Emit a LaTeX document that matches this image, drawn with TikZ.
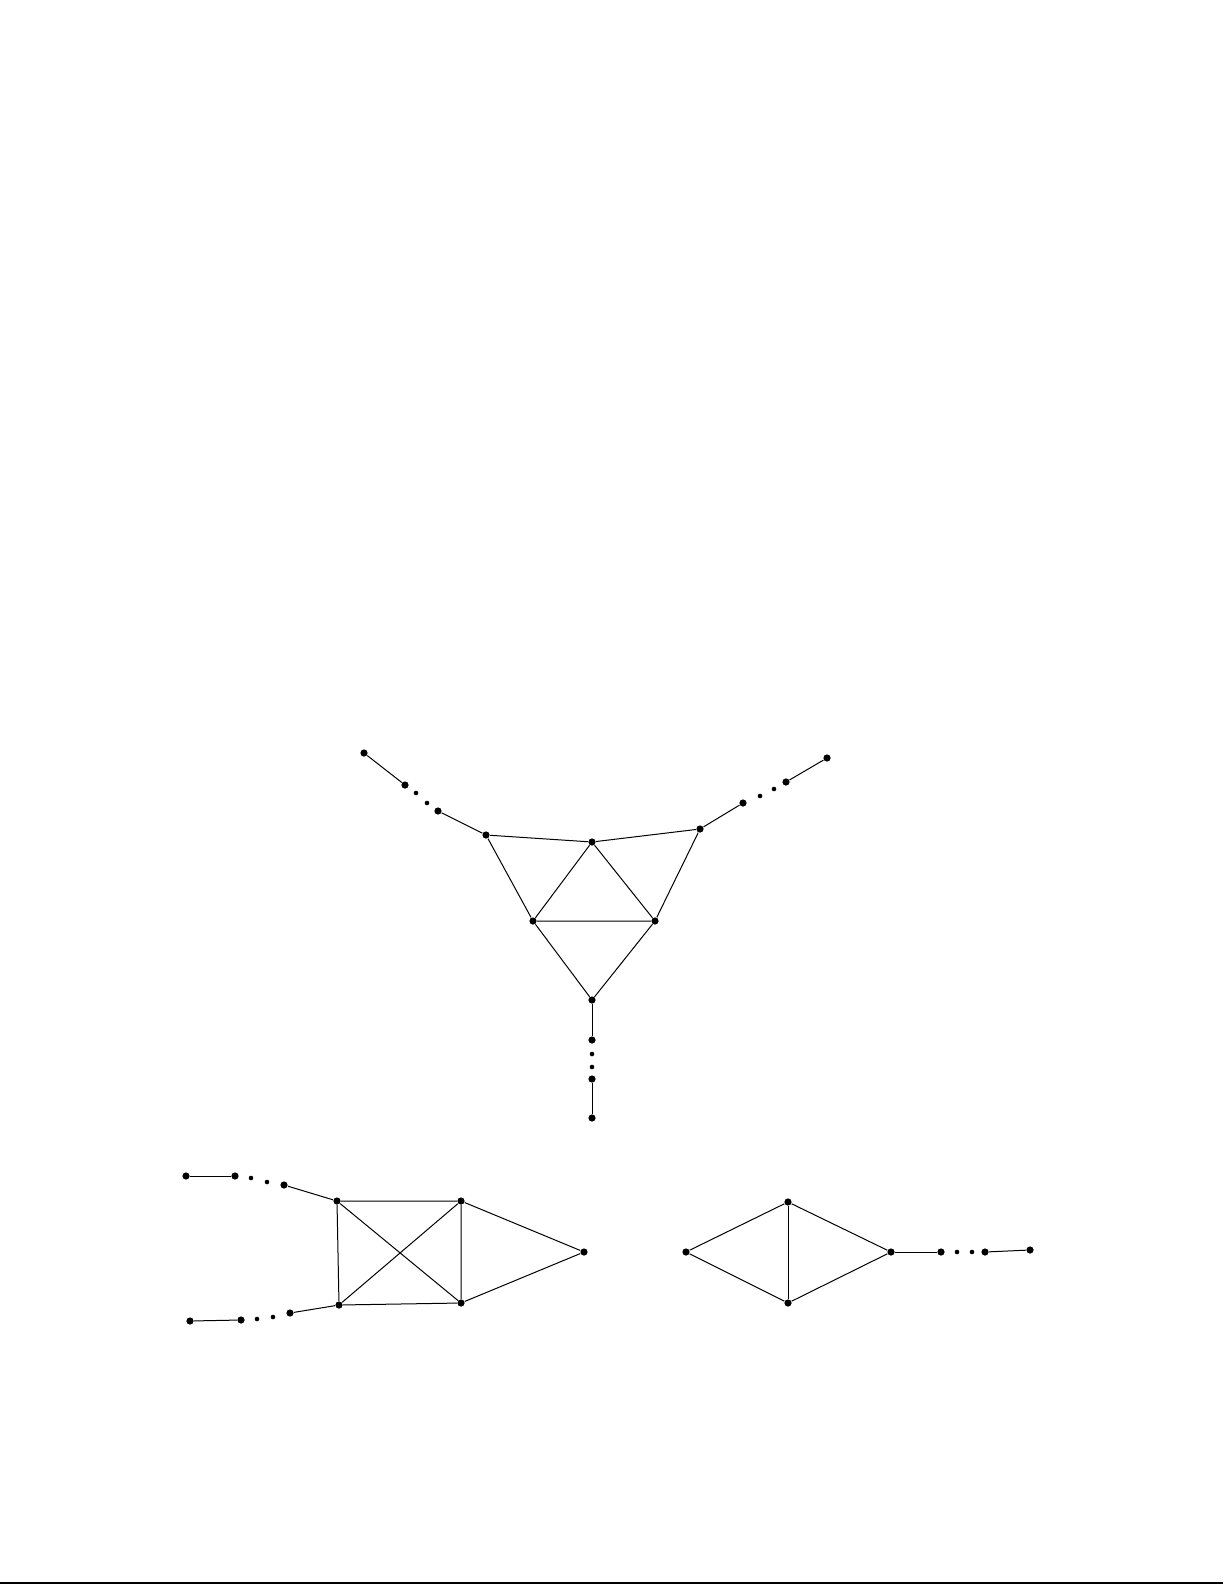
\documentclass[tikz,border=0pt]{standalone}
\usetikzlibrary{calc}

\begin{document}
\begin{tikzpicture}[x=0.5pt,y=-0.5pt,line width=0.5pt,
    vertex/.style={circle,fill,inner sep=0pt,minimum size=3.6pt},
    gap/.style={circle,fill,inner sep=0pt,minimum size=2.3pt}]
  \useasboundingbox (0,0) rectangle (1225,1585);

  % top graph
  \node[vertex] (a1) at (364,753) {};
  \node[vertex] (a2) at (405,785) {};
  \node[gap]    (ad1) at (416,793) {};
  \node[gap]    (ad2) at (427,803) {};
  \node[vertex] (a3) at (438,811) {};
  \node[vertex] (A) at (486,835) {};
  \node[vertex] (B) at (592,842) {};
  \node[vertex] (C) at (700,829) {};
  \node[vertex] (c3) at (743,803) {};
  \node[gap]    (cd1) at (760,796) {};
  \node[gap]    (cd2) at (774,789) {};
  \node[vertex] (c2) at (786,782) {};
  \node[vertex] (c1) at (827,758) {};
  \node[vertex] (D) at (533,921) {};
  \node[vertex] (E) at (655,921) {};
  \node[vertex] (F) at (592,1000) {};
  \node[vertex] (f1) at (592,1040) {};
  \node[gap]    (fd1) at (592,1054) {};
  \node[gap]    (fd2) at (592,1067) {};
  \node[vertex] (f2) at (592,1079) {};
  \node[vertex] (f3) at (592,1118) {};
  \draw (a1) -- (a2);
  \draw (a3) -- (A) -- (B) -- (C) -- (c3);
  \draw (c2) -- (c1);
  \draw (A) -- (D) -- (E) -- (C);
  \draw (D) -- (B) -- (E);
  \draw (D) -- (F) -- (E);
  \draw (F) -- (f1);
  \draw (f2) -- (f3);

  % lower left graph
  \node[vertex] (l1) at (186,1176) {};
  \node[vertex] (l2) at (235,1176) {};
  \node[gap]    (ld1) at (251,1178) {};
  \node[gap]    (ld2) at (267,1182) {};
  \node[vertex] (l3) at (284,1185) {};
  \node[vertex] (P) at (337,1201) {};
  \node[vertex] (Q) at (461,1201) {};
  \node[vertex] (R) at (584,1252) {};
  \node[vertex] (S) at (339,1305) {};
  \node[vertex] (T) at (461,1303) {};
  \node[vertex] (m3) at (290,1313) {};
  \node[gap]    (md2) at (273,1317) {};
  \node[gap]    (md1) at (257,1319) {};
  \node[vertex] (m2) at (241,1320) {};
  \node[vertex] (m1) at (190,1321) {};
  \draw (l1) -- (l2);
  \draw (l3) -- (P);
  \draw (P) -- (Q) -- (T) -- (S) -- (P);
  \draw (P) -- (T);
  \draw (S) -- (Q);
  \draw (Q) -- (R) -- (T);
  \draw (S) -- (m3);
  \draw (m2) -- (m1);

  % lower right graph
  \node[vertex] (U) at (686,1252) {};
  \node[vertex] (V) at (788,1202) {};
  \node[vertex] (W) at (788,1303) {};
  \node[vertex] (X) at (891,1252) {};
  \node[vertex] (r2) at (941,1252) {};
  \node[gap]    (rd1) at (957,1252) {};
  \node[gap]    (rd2) at (972,1252) {};
  \node[vertex] (r3) at (985,1252) {};
  \node[vertex] (r4) at (1030,1250) {};
  \draw (U) -- (V) -- (X) -- (W) -- (U);
  \draw (V) -- (W);
  \draw (X) -- (r2);
  \draw (r3) -- (r4);

  % rule at the foot of the page
  \draw[line width=1pt] (0,1583) -- (1223,1583);
\end{tikzpicture}
\end{document}
